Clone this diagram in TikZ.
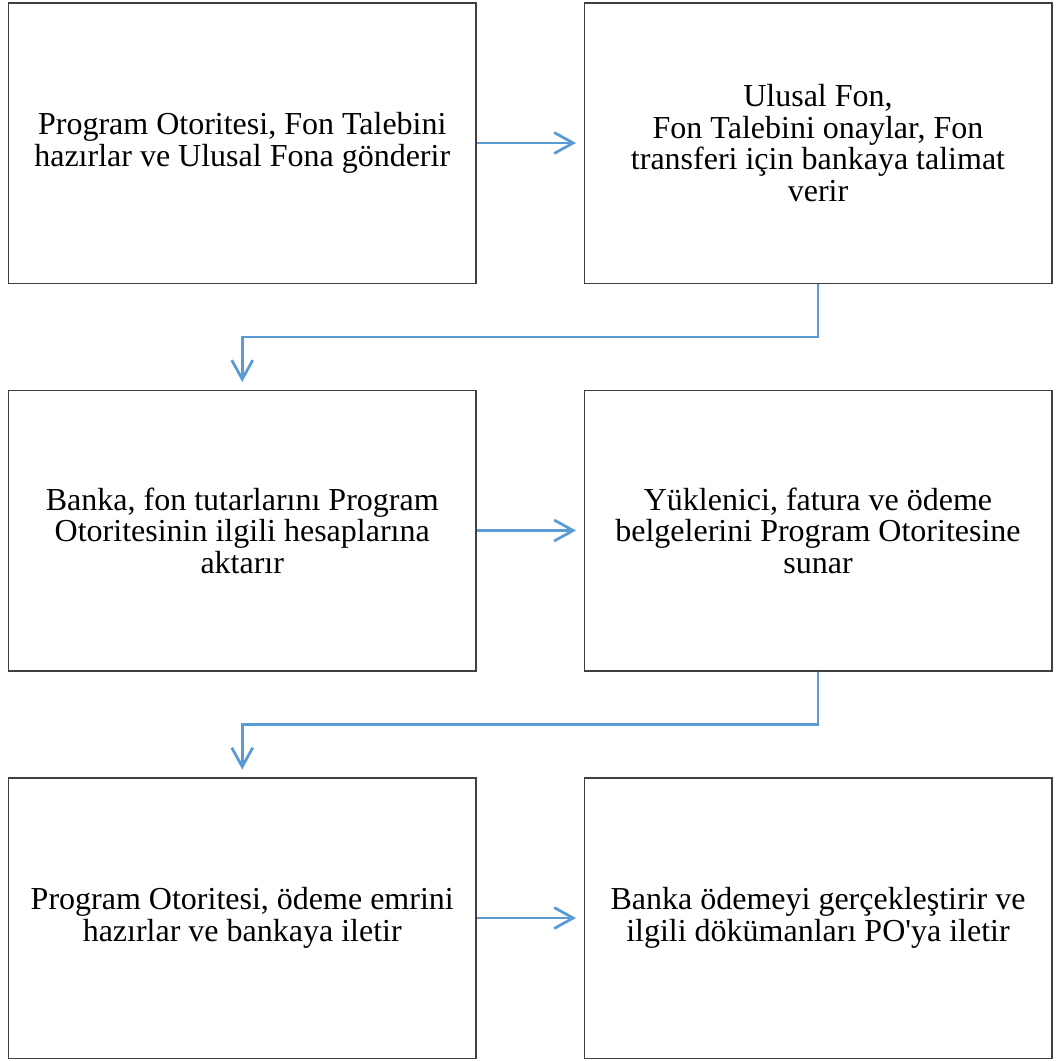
\documentclass[tikz,border=0pt]{standalone}
\usepackage{fontspec}
\setmainfont{Liberation Serif}
\newfontfamily\plainserif{Liberation Serif}
\usetikzlibrary{arrows.meta}
\definecolor{boxline}{HTML}{404040}
\definecolor{flowblue}{HTML}{5B9BD5}
\tikzset{
  stepbox/.style={draw=boxline, line width=1.5pt, fill=white, minimum width=467.5pt, minimum height=280.5pt,
    inner sep=0pt, align=center, font=\fontsize{32pt}{31.5pt}\selectfont},
  flow/.style={draw=flowblue, line width=2.75pt, -{Straight Barb[length=19pt,width=21pt,line width=2.75pt]}, shorten >=7.5pt},
}
\begin{document}
\begin{tikzpicture}[x=1pt,y=-1pt]
\useasboundingbox (0,0) rectangle (1061,1061);
\node[stepbox] (a) at (242.25,143) {Program Otoritesi, Fon Talebini\\hazırlar ve Ulusal Fona gönderir};
\node[stepbox] (b) at (818,143) {Ulusal Fon,\\Fon Talebini onaylar, Fon\\transferi için bankaya talimat\\verir};
\node[stepbox] (c) at (242.25,530.5) {Banka, fon tutarlarını Program\\Otoritesinin ilgili hesaplarına\\aktarır};
\node[stepbox] (d) at (818,530.5) {Yüklenici, fatura ve ödeme\\belgelerini Program Otoritesine\\sunar};
\node[stepbox] (e) at (242.25,918) {Program Otoritesi, ödeme emrini\\hazırlar ve bankaya iletir};
\node[stepbox] (f) at (818,918) {Banka ödemeyi gerçekleştirir ve\\ilgili dökümanları PO{\plainserif '}ya iletir};
\draw[flow] (a.east) -- (b.west);
\draw[flow] (c.east) -- (d.west);
\draw[flow] (e.east) -- (f.west);
\draw[flow] (b.south) -- ++(0,53) -| (c.north);
\draw[flow] (d.south) -- ++(0,53) -| (e.north);
\end{tikzpicture}
\end{document}
